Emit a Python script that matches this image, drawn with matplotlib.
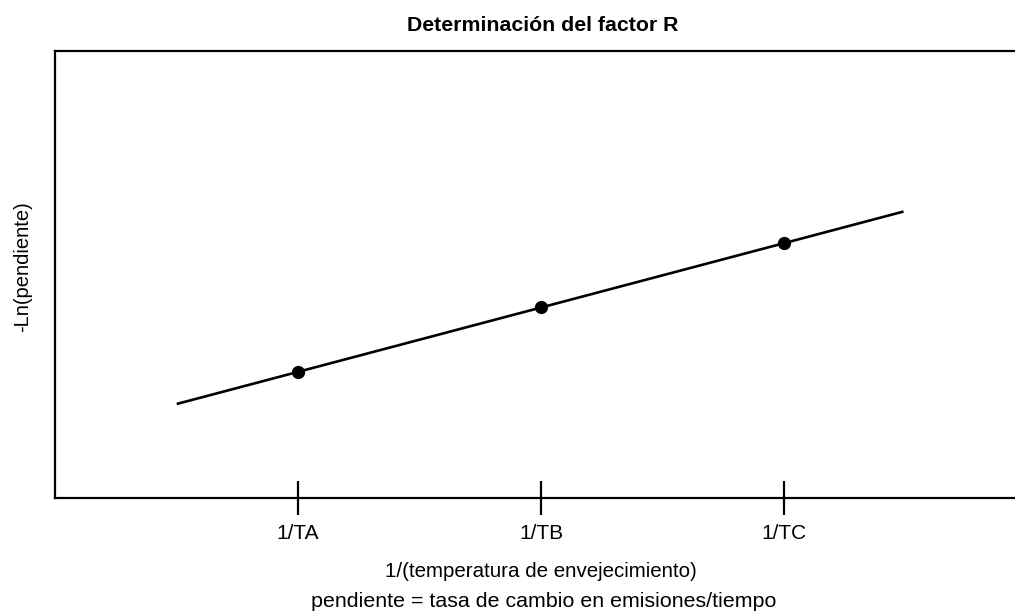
import numpy as np
import matplotlib
matplotlib.use('Agg')
import matplotlib.pyplot as plt

plt.rcParams['font.family'] = ['Liberation Sans', 'DejaVu Sans']

# --- datos ---
tick_pos = [1, 2, 3]
tick_labels = ['1/TA', '1/TB', '1/TC']
point_x = [1, 2, 3]
point_y = [2.82, 4.27, 5.70]
line_x = [0.506, 3.486]
line_y = [2.11, 6.40]

fig = plt.figure(figsize=(10.15, 6.14), dpi=100)
ax = fig.add_axes([0.0542, 0.189, 0.9458, 0.728])

ax.plot(line_x, line_y, color='black', linewidth=1.9)
ax.plot(point_x, point_y, 'o', color='black', markersize=8.5)

ax.set_xlim(0, 3.95)
ax.set_ylim(0, 10)
ax.spines['right'].set_visible(False)
for s in ['left', 'top', 'bottom']:
    ax.spines[s].set_linewidth(1.6)

ax.set_xticks(tick_pos)
ax.set_xticklabels(tick_labels, fontsize=15)
ax.tick_params(axis='x', direction='inout', length=24, width=1.6, pad=7)
ax.set_yticks([])

# textos colocados en coordenadas de figura
fig.text(0.535, 0.959, 'Determinación del factor R', ha='center', va='center',
         fontsize=15.3, fontweight='bold')
fig.text(0.533, 0.070, '1/(temperatura de envejecimiento)', ha='center', va='center', fontsize=14.8)
fig.text(0.5355, 0.021, 'pendiente = tasa de cambio en emisiones/tiempo', ha='center', va='center', fontsize=15.4)
fig.text(0.022, 0.565, '-Ln(pendiente)', ha='center', va='center', rotation=90, fontsize=14.5)

fig.savefig('out.png', dpi=100)
